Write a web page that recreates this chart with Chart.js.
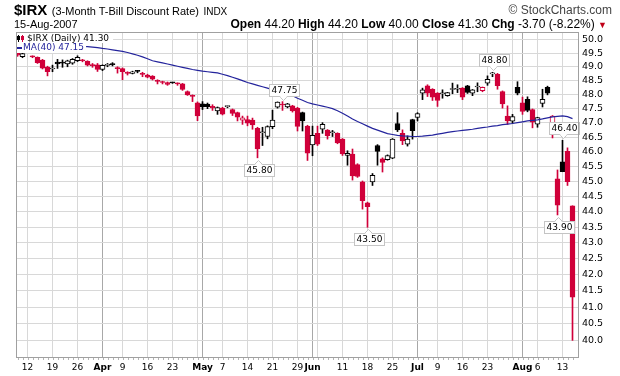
<!DOCTYPE html>
<html>
<head>
<meta charset="utf-8">
<title>$IRX</title>
<script src="https://cdn.jsdelivr.net/npm/chart.js@4.4.1/dist/chart.umd.min.js"></script>
<style>
  body { margin: 0; background: #fff; }
  #wrap { position: relative; width: 620px; height: 376px; overflow: hidden; }
  #chart { position: absolute; left: 0; top: 0; }
  .hd { position: absolute; white-space: nowrap; color: #000; font-family: "Liberation Sans", Arial, sans-serif; }
</style>
</head>
<body>
<div id="wrap">
  <canvas id="chart" width="620" height="376"></canvas>
  <div class="hd" style="left:14px; top:1px; line-height:18px;"><span style="font-size:15px; font-weight:bold;">$IRX</span> <span style="font-size:11px;">(3-Month T-Bill Discount Rate)</span> <span style="font-size:10px;">INDX</span></div>
  <div class="hd" style="right:8px; top:3px; font-size:12px; color:#444;">&copy; StockCharts.com</div>
  <div class="hd" style="left:14px; top:18px; font-size:11px;">15-Aug-2007</div>
  <div class="hd" id="quote" style="right:13px; top:17px; font-size:12px;"></div>
</div>
<script>
// daily candles, 8-Mar-2007 .. 15-Aug-2007 (index = trading day)
const opens = [49.50, 49.37, null, 49.38, 49.34, 49.24, 48.99, 48.92, 49.17, 49.16,
  49.10, 49.13, 49.22, 49.24, 49.20, 49.07, 49.07, 48.90, 49.05, 49.09,
  48.95, 48.93, 48.80, 48.76, 48.84, 48.76, 48.70, 48.66, 48.50, 48.46,
  48.43, 48.42, 48.40, 48.38, 48.11, 47.97, 47.71, 47.67, 47.66, 47.58,
  47.42, 47.52, 47.57, 47.47, 47.36, 47.10, 47.12, 47.10, 46.81, 46.66,
  46.53, 46.87, 47.55, 47.66, 47.56, 47.60, 47.52, 47.36, 46.89, 46.24,
  46.64, 46.78, 46.75, 46.66, 46.64, 46.44, 45.88, 45.93, 45.57, 44.99,
  44.30, 44.99, 46.22, 45.77, 45.74, 45.79, 46.98, 46.64, 46.27, 47.12,
  47.19, 48.05, 48.31, 48.19, 48.05, 48.03, 47.96, 48.18, 48.19, 48.23,
  48.31, 48.05, 48.27, 48.14, 48.41, 48.74, 48.73, 48.11, 47.24, 47.06,
  48.26, 47.71, 47.83, 47.47, 46.96, 47.69, 48.26, 46.95, 45.09, 45.66,
  46.02, 44.20];
const highs = [49.52, 49.50, null, 49.40, 49.36, 49.27, 49.02, 49.06, 49.27, 49.25,
  49.24, 49.30, 49.40, 49.27, 49.22, 49.12, 49.12, 49.07, 49.12, 49.15,
  49.00, 48.96, 48.82, 48.84, 48.87, 48.80, 48.73, 48.68, 48.53, 48.48,
  48.45, 48.44, 48.42, 48.40, 48.13, 47.99, 47.74, 47.75, 47.70, 47.64,
  47.56, 47.55, 47.60, 47.49, 47.38, 47.24, 47.24, 47.17, 46.85, 46.85,
  46.90, 47.45, 47.74, 47.75, 47.69, 47.62, 47.55, 47.38, 46.92, 46.89,
  46.89, 47.01, 46.77, 46.74, 46.66, 46.46, 46.04, 46.10, 45.60, 45.02,
  44.32, 45.27, 46.25, 45.80, 45.90, 46.46, 47.36, 46.76, 46.55, 47.13,
  47.36, 48.23, 48.35, 48.21, 48.07, 48.17, 48.08, 48.41, 48.35, 48.25,
  48.33, 48.18, 48.42, 48.27, 48.67, 48.80, 48.76, 48.13, 47.60, 47.30,
  48.46, 47.91, 47.92, 47.49, 47.20, 48.19, 48.30, 47.26, 45.39, 46.40,
  46.14, 44.20];
const lows = [49.38, 49.33, null, 49.33, 49.12, 48.92, 48.67, 48.82, 48.94, 48.98,
  49.00, 49.09, 49.19, 49.18, 49.03, 48.98, 48.83, 48.86, 49.00, 49.03,
  48.77, 48.53, 48.70, 48.74, 48.78, 48.64, 48.60, 48.52, 48.38, 48.38,
  48.33, 48.40, 48.33, 48.15, 47.97, 47.75, 47.08, 47.47, 47.50, 47.44,
  47.30, 47.28, 47.53, 47.26, 47.07, 46.95, 46.90, 46.78, 45.80, 46.22,
  46.45, 46.80, 47.52, 47.44, 47.53, 47.38, 46.72, 46.72, 45.71, 45.87,
  46.22, 46.64, 46.44, 46.53, 46.28, 45.88, 45.55, 45.05, 45.14, 44.09,
  43.50, 44.87, 45.55, 45.32, 45.72, 45.77, 46.70, 46.25, 46.20, 46.44,
  47.07, 47.82, 47.93, 47.79, 47.58, 47.87, 47.94, 48.03, 48.07, 47.82,
  48.04, 47.96, 48.10, 48.10, 48.33, 48.64, 48.19, 47.52, 46.95, 46.98,
  47.99, 47.30, 47.39, 46.83, 46.85, 47.56, 47.99, 46.48, 43.90, 45.33,
  44.87, 40.00];
const closes = [49.42, 49.48, null, 49.36, 49.15, 48.95, 48.82, 48.94, 49.10, 49.13,
  49.22, 49.27, 49.34, 49.22, 49.06, 49.04, 48.90, 49.05, 49.07, 49.08,
  48.93, 48.82, 48.76, 48.82, 48.83, 48.72, 48.62, 48.55, 48.47, 48.43,
  48.36, 48.42, 48.38, 48.18, 47.99, 47.93, 47.25, 47.56, 47.57, 47.53,
  47.54, 47.31, 47.58, 47.33, 47.20, 47.18, 46.99, 46.93, 46.10, 46.67,
  46.87, 47.10, 47.73, 47.63, 47.67, 47.42, 46.88, 47.07, 45.96, 46.57,
  46.27, 46.95, 46.56, 46.67, 46.31, 45.93, 45.95, 45.19, 45.17, 44.37,
  44.17, 45.21, 46.02, 45.64, 45.88, 46.44, 46.76, 46.38, 46.44, 46.73,
  47.33, 48.17, 48.05, 47.91, 47.79, 48.05, 48.07, 48.19, 48.20, 47.91,
  48.08, 48.17, 48.29, 48.26, 48.55, 48.76, 48.32, 47.67, 47.07, 47.22,
  48.05, 47.40, 47.44, 47.03, 47.19, 47.83, 48.05, 47.24, 44.22, 45.33,
  45.00, 41.30];
// 40-day moving average
const ma40 = [49.95, 49.94, 49.93, 49.92, 49.91, 49.90, 49.88, 49.87, 49.85, 49.83,
  49.81, 49.79, 49.77, 49.75, 49.74, 49.72, 49.70, 49.67, 49.65, 49.62,
  49.59, 49.56, 49.52, 49.47, 49.42, 49.36, 49.29, 49.22, 49.18, 49.14,
  49.10, 49.06, 49.02, 48.98, 48.94, 48.90, 48.87, 48.84, 48.82, 48.80,
  48.78, 48.73, 48.68, 48.62, 48.56, 48.50, 48.43, 48.38, 48.33, 48.28,
  48.23, 48.17, 48.12, 48.06, 48.01, 47.96, 47.87, 47.80, 47.72, 47.67,
  47.63, 47.59, 47.55, 47.50, 47.43, 47.34, 47.24, 47.14, 47.05, 46.97,
  46.89, 46.81, 46.75, 46.69, 46.63, 46.60, 46.57, 46.55, 46.54, 46.53,
  46.53, 46.54, 46.56, 46.58, 46.61, 46.64, 46.67, 46.70, 46.72, 46.74,
  46.76, 46.78, 46.81, 46.84, 46.86, 46.89, 46.91, 46.94, 46.96, 46.98,
  47.01, 47.04, 47.07, 47.09, 47.11, 47.14, 47.18, 47.21, 47.23, 47.25,
  47.22, 47.15];

// x axis: week / month grid lines and their labels
const gridDays = [2, 7, 12, 17, 21, 26, 31, 36, 37, 41, 46, 51, 56, 59, 60, 65, 70, 75, 80, 84, 89, 94, 99, 101, 104, 109];
const gridText = ['12', '19', '26', 'Apr', '9', '16', '23', '', 'May', '7', '14', '21', '29', 'Jun', '', '11', '18', '25', 'Jul', '9', '16', '23', '', 'Aug', '6', '13'];
const monthDays = [17, 37, 59, 80, 101];
const priceTicks = [40.0, 40.5, 41.0, 41.5, 42.0, 42.5, 43.0, 43.5, 44.0, 44.5, 45.0,
  45.5, 46.0, 46.5, 47.0, 47.5, 48.0, 48.5, 49.0, 49.5, 50.0];
// swing points that carry a price tag
const noteDays = [48, 53, 70, 95, 108, 109];
const noteSide = ['low', 'high', 'low', 'high', 'low', 'high'];

const RED = '#d0003a';
const BLACK = '#000000';
const FONT = '"DejaVu Sans", Verdana, sans-serif';

// stockcharts colouring: red when close is below previous close
const candleColor = [];
let prev = null;
for (let i = 0; i < closes.length; i++) {
  if (closes[i] == null) { candleColor.push(null); continue; }
  const ref = prev == null ? opens[i] : prev;
  candleColor.push(closes[i] < ref ? RED : BLACK);
  prev = closes[i];
}
const days = closes.map((c, i) => i).filter(i => closes[i] != null);

const last = closes.length - 1;
const chg = closes[last] - closes[last - 1];
document.getElementById('quote').innerHTML =
  '<b>Open</b> ' + opens[last].toFixed(2) + ' <b>High</b> ' + highs[last].toFixed(2) +
  ' <b>Low</b> ' + lows[last].toFixed(2) + ' <b>Close</b> ' + closes[last].toFixed(2) +
  ' <b>Chg</b> ' + chg.toFixed(2) + ' (' + (chg / closes[last - 1] * 100).toFixed(2) + '%) ' +
  '<span style="color:#c00018;font-size:9px">&#9660;</span>';

const extras = {
  id: 'extras',
  afterDatasetsDraw(chart) {
    const { ctx, chartArea: a, scales: { x, y } } = chart;
    ctx.save();
    // price tags
    ctx.font = '9px ' + FONT;
    ctx.textBaseline = 'middle';
    ctx.textAlign = 'center';
    noteDays.forEach((d, k) => {
      const low = noteSide[k] === 'low';
      const v = low ? lows[d] : highs[d];
      const px = Math.round(x.getPixelForValue(d)) + 0.5;
      const py = y.getPixelForValue(v);
      const txt = v.toFixed(2);
      const w = Math.round(ctx.measureText(txt).width) + 4, h = 12;
      const bx = Math.round(px - w / 2) + 0.5;
      const by = low ? Math.round(py + 6) + 0.5 : Math.round(py - 6 - h) + 0.5;
      ctx.fillStyle = '#fff';
      ctx.strokeStyle = '#c4c4c4';
      ctx.lineWidth = 1;
      ctx.fillRect(bx, by, w, h);
      ctx.strokeRect(bx, by, w, h);
      const edge = low ? by : by + h;
      const tip = low ? edge - 4 : edge + 4;
      ctx.beginPath();
      ctx.moveTo(px - 4, edge);
      ctx.lineTo(px, tip);
      ctx.lineTo(px + 4, edge);
      ctx.fill();
      ctx.stroke();
      ctx.fillRect(px - 3, edge - 0.5, 6, 1.5);
      ctx.fillStyle = '#000';
      ctx.fillText(txt, bx + w / 2, by + h / 2 + 0.5);
    });
    // legend
    ctx.textAlign = 'left';
    const l1 = '$IRX (Daily) ' + closes[last].toFixed(2);
    const l2 = 'MA(40) ' + ma40[last].toFixed(2);
    const w1 = ctx.measureText(l1).width, w2 = ctx.measureText(l2).width;
    ctx.fillStyle = '#fff';
    ctx.fillRect(a.left + 1, a.top + 1, w1 + 14, 10);
    ctx.fillRect(a.left + 1, a.top + 11, w2 + 8, 10);
    ctx.fillStyle = BLACK;
    ctx.fillRect(a.left + 2, a.top + 3, 1, 7);
    ctx.strokeStyle = BLACK;
    ctx.strokeRect(a.left + 1.5, a.top + 4.5, 2, 3);
    ctx.fillStyle = RED;
    ctx.fillRect(a.left + 6, a.top + 3, 1, 7);
    ctx.fillRect(a.left + 5, a.top + 4, 3, 4);
    ctx.fillStyle = BLACK;
    ctx.fillText(l1, a.left + 11, a.top + 6.5);
    ctx.fillStyle = '#24249c';
    ctx.fillRect(a.left + 1, a.top + 15, 5, 2);
    ctx.fillText(l2, a.left + 7, a.top + 16);
    ctx.restore();
  },
  afterDraw(chart) {
    const { ctx, chartArea: a, scales: { x } } = chart;
    ctx.save();
    ctx.strokeStyle = '#a0a0a0';
    ctx.lineWidth = 1;
    ctx.strokeRect(a.left + 0.5, a.top + 0.5, a.right - a.left - 1, a.bottom - a.top);
    ctx.fillStyle = '#b4b4b4';
    for (let i = 0; i < closes.length; i++) {
      ctx.fillRect(Math.round(x.getPixelForValue(i)), a.bottom + 1, 1, 2);
    }
    ctx.restore();
  }
};

new Chart(document.getElementById('chart'), {
  type: 'bar',
  data: {
    datasets: [
      {
        label: 'wick',
        data: days.map(i => ({ x: i, y: [lows[i], highs[i]] })),
        backgroundColor: c => candleColor[c.raw.x],
        barThickness: 1,
        grouped: false,
        minBarLength: 1,
        order: 3
      },
      {
        label: 'body',
        data: days.map(i => ({ x: i, y: [opens[i], closes[i]] })),
        backgroundColor: c => closes[c.raw.x] > opens[c.raw.x] ? '#ffffff' : candleColor[c.raw.x],
        borderColor: c => candleColor[c.raw.x],
        borderWidth: 1,
        borderSkipped: false,
        barThickness: 5,
        grouped: false,
        minBarLength: 1,
        order: 2
      },
      {
        type: 'line',
        label: 'MA(40)',
        data: ma40.map((v, i) => ({ x: i, y: v })),
        borderColor: '#24249c',
        borderWidth: 1.2,
        pointRadius: 0,
        tension: 0,
        order: 1
      }
    ]
  },
  options: {
    responsive: false,
    animation: false,
    devicePixelRatio: 1,
    layout: { padding: { left: 16, top: 32, right: 0, bottom: 0 } },
    plugins: { legend: { display: false }, tooltip: { enabled: false } },
    scales: {
      x: {
        type: 'linear',
        min: -0.3,
        max: 112.3,
        bounds: 'data',
        offset: false,
        afterBuildTicks: s => { s.ticks = gridDays.map(v => ({ value: v })); },
        afterFit: s => { s.height = 19; },
        border: { display: false },
        grid: {
          color: c => monthDays.includes(c.tick && c.tick.value) ? '#a8a8a8' : '#d8d8d8',
          drawTicks: false,
          offset: false
        },
        ticks: {
          autoSkip: false,
          maxRotation: 0,
          padding: 5,
          color: '#000',
          font: c => ({ family: FONT, size: 9, weight: monthDays.includes(c.tick && c.tick.value) ? 'bold' : 'normal' }),
          callback: v => { const k = gridDays.indexOf(v); return k >= 0 ? gridText[k] : ''; }
        }
      },
      y: {
        type: 'logarithmic',
        position: 'right',
        min: 39.51,
        max: 50.28,
        bounds: 'data',
        afterBuildTicks: s => { s.ticks = priceTicks.map(v => ({ value: v })); },
        afterFit: s => { s.width = 41; },
        border: { display: false },
        grid: { color: '#d8d8d8', drawTicks: false },
        ticks: {
          autoSkip: false,
          padding: 3,
          color: '#000',
          font: { family: FONT, size: 9.5 },
          callback: v => Number(v).toFixed(1)
        }
      }
    }
  },
  plugins: [extras]
});
</script>
</body>
</html>
